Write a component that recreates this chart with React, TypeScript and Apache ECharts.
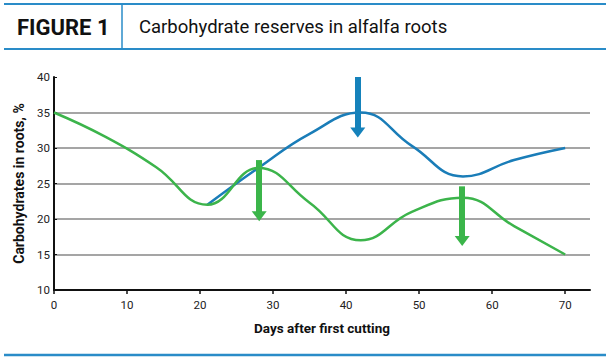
import React, { useEffect, useRef } from "react";
import * as echarts from "echarts";

const days = [0, 7, 14, 21, 28, 35, 42, 49, 56, 63, 70];
const greenValues = [35, 31.6, 27.3, 22, 27.2, 22.3, 17, 21, 23, 19, 15];
const blueValues: (number | null)[] = [null, null, null, 22, 27.2, 32, 35, 30.3, 26, 28.3, 30];
const xTicks = [0, 10, 20, 30, 40, 50, 60, 70];
const greenArrows = [
  [28.1, 28.3, 20.4],
  [55.9, 24.6, 16.9],
];
const blueArrows = [[41.6, 40, 32.2]];

const BLUE = "#1a7db8";
const GREEN = "#3cb44b";
const RULE = "#2a8cc8";
const AXIS_FONT = "Roboto, sans-serif";

export default function App() {
  const ref = useRef<HTMLDivElement>(null);
  useEffect(() => {
    if (!ref.current) return;
    const chart = echarts.init(ref.current, undefined, { renderer: "svg" });
    const arrowLines = (arr: number[][], color: string) => ({
      silent: true,
      symbol: ["none", "triangle"],
      symbolSize: [15, 10],
      label: { show: false },
      lineStyle: { color, width: 6, type: "solid" },
      emphasis: { disabled: true },
      data: arr.map(([x, y1, y2]) => [{ coord: [x, y1] }, { coord: [x, y2] }]),
    });
    chart.setOption({
      animation: false,
      grid: { left: 54, right: 20, top: 77, bottom: 71 },
      xAxis: {
        type: "value",
        min: 0,
        max: 73.4,
        interval: 10,
        name: "Days after first cutting",
        nameLocation: "middle",
        nameGap: 31,
        nameTextStyle: { fontFamily: AXIS_FONT, fontWeight: "bold", fontSize: 13.5, color: "#111" },
        axisLine: { lineStyle: { color: "#111", width: 2 } },
        axisTick: { show: true, length: 4, lineStyle: { color: "#111", width: 1.5 }, customValues: xTicks },
        axisLabel: { customValues: xTicks, fontFamily: AXIS_FONT, fontSize: 11.5, color: "#222", margin: 9 },
        splitLine: { show: false },
      },
      yAxis: {
        type: "value",
        min: 10,
        max: 40,
        interval: 5,
        name: "Carbohydrates in roots, %",
        nameLocation: "middle",
        nameGap: 27,
        nameTextStyle: { fontFamily: AXIS_FONT, fontWeight: "bold", fontSize: 14, color: "#111" },
        axisLine: { show: true, lineStyle: { color: "#111", width: 2 } },
        axisTick: { show: true, inside: true, length: 3, lineStyle: { color: "#111", width: 1 } },
        axisLabel: { fontFamily: AXIS_FONT, fontSize: 11.5, color: "#222", margin: 4 },
        splitLine: { show: true, showMinLine: false, showMaxLine: false, lineStyle: { color: "#a5a5a5", width: 2 } },
      },
      series: [
        {
          type: "line",
          data: days.map((d, i) => [d, blueValues[i]]),
          smooth: 0.45,
          showSymbol: false,
          connectNulls: false,
          lineStyle: { color: BLUE, width: 2.5 },
          itemStyle: { color: BLUE },
          z: 2,
          markLine: arrowLines(blueArrows, "#1582bb"),
        },
        {
          type: "line",
          data: days.map((d, i) => [d, greenValues[i]]),
          smooth: 0.45,
          showSymbol: false,
          lineStyle: { color: GREEN, width: 2.5 },
          itemStyle: { color: GREEN },
          z: 3,
          markLine: arrowLines(greenArrows, "#3bb54a"),
        },
      ],
      graphic: [
        { type: "line", shape: { x1: 4, y1: 4, x2: 606, y2: 4 }, style: { stroke: RULE, lineWidth: 2 } },
        { type: "line", shape: { x1: 4, y1: 49, x2: 606, y2: 49 }, style: { stroke: RULE, lineWidth: 2 } },
        { type: "line", shape: { x1: 122, y1: 4, x2: 122, y2: 49 }, style: { stroke: RULE, lineWidth: 1.5 } },
        { type: "line", shape: { x1: 4, y1: 355, x2: 606, y2: 355 }, style: { stroke: RULE, lineWidth: 2.5 } },
        {
          type: "text",
          x: 17,
          y: 27,
          style: {
            text: "FIGURE 1",
            font: "bold 22px Roboto, sans-serif",
            fill: "#111",
            verticalAlign: "middle",
          },
        },
        {
          type: "text",
          x: 139,
          y: 27,
          style: {
            text: "Carbohydrate reserves in alfalfa roots",
            font: "18.5px Roboto, sans-serif",
            fill: "#111",
            verticalAlign: "middle",
          },
        },
      ],
    });
    return () => chart.dispose();
  }, []);
  return <div ref={ref} style={{ width: 610, height: 361, position: "absolute", left: 0, top: 0 }} />;
}
